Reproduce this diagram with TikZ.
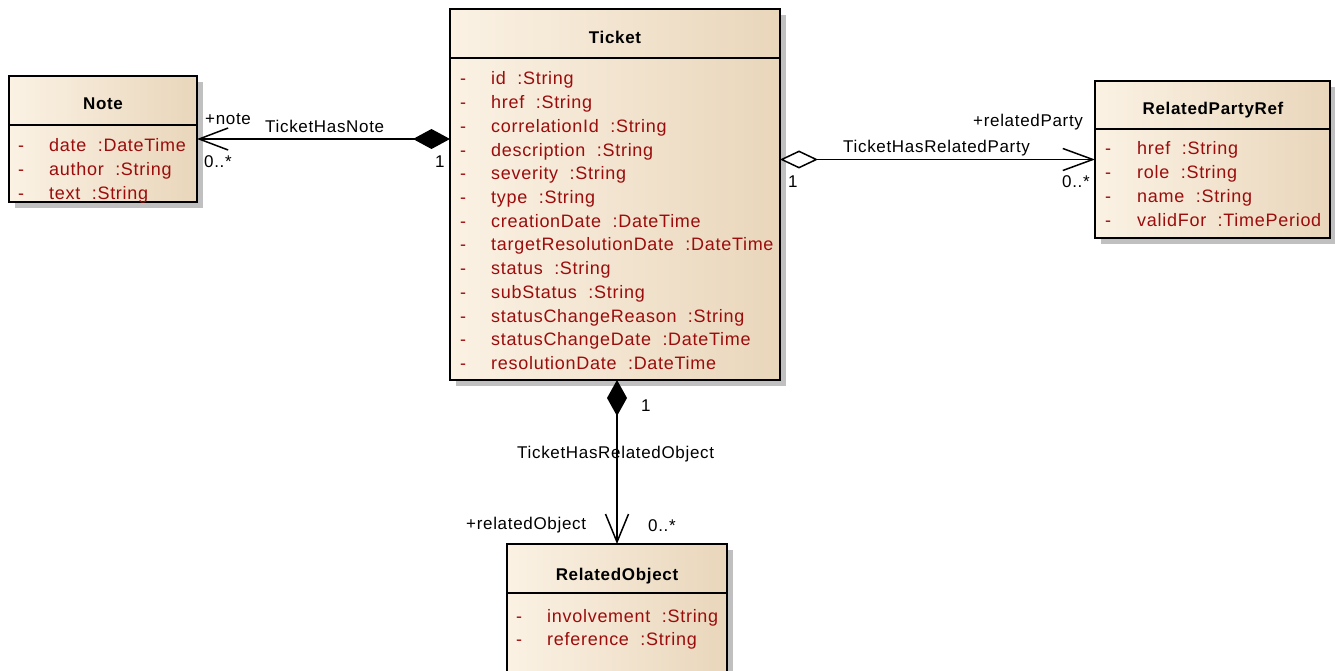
\documentclass[tikz,border=0pt]{standalone}
\usepackage{fontspec}
\setmainfont{Liberation Sans}
\newfontfamily\umlfont{Liberation Sans}[LetterSpace=4]
\usetikzlibrary{arrows.meta}
\definecolor{attrc}{RGB}{155,12,12}
\definecolor{fillL}{RGB}{251,242,228}
\definecolor{fillR}{RGB}{233,214,187}
\definecolor{shadowc}{RGB}{192,192,192}
\tikzset{
  classbox/.style={rectangle, draw=black, line width=1.8pt, left color=fillL, right color=fillR, inner sep=0pt, outer sep=0pt, anchor=north west},
  divider/.style={draw=black, line width=1.8pt},
  umltitle/.style={font=\umlfont\bfseries\fontsize{17}{20}\selectfont, anchor=base, inner sep=0pt},
  umlattr/.style={font=\umlfont\fontsize{18}{20}\selectfont, text=attrc, anchor=base west, inner sep=0pt},
  umllbl/.style={font=\umlfont\fontsize{17}{20}\selectfont, anchor=base west, inner sep=0pt},
  assoc/.style={draw=black, line width=1.5pt},
}
\begin{document}
\begin{tikzpicture}[x=1pt,y=-1pt]
\useasboundingbox (0,0) rectangle (1335,671);
\clip (0,0) rectangle (1335,671);

% shadows
\fill[shadowc] (15,82) rectangle (203,208);
\fill[shadowc] (456,15) rectangle (786,386);
\fill[shadowc] (1101,87) rectangle (1336,244);
\fill[shadowc] (513,550) rectangle (733,700);

% boxes
\node[classbox, minimum width=188pt, minimum height=126pt] (note) at (9,76) {};
\node[classbox, minimum width=330pt, minimum height=371pt] (ticket) at (450,9) {};
\node[classbox, minimum width=235pt, minimum height=157pt] (rp) at (1095,81) {};
\node[classbox, minimum width=220pt, minimum height=146pt] (ro) at (507,544) {};

% dividers
\draw[divider] (note.west |- 0,125) -- (note.east |- 0,125);
\draw[divider] (ticket.west |- 0,58) -- (ticket.east |- 0,58);
\draw[divider] (rp.west |- 0,129) -- (rp.east |- 0,129);
\draw[divider] (ro.west |- 0,593) -- (ro.east |- 0,593);

% titles
\node[umltitle] (note-title) at (103,110) {Note};
\node[umltitle] (ticket-title) at (615,44) {Ticket};
\node[umltitle] (rp-title) at (1213,115) {RelatedPartyRef};
\node[umltitle] (ro-title) at (617,580) {RelatedObject};

% attributes
\foreach \t [count=\i from 0] in {date\ \ :DateTime, author\ \ :String, text\ \ :String} {
  \node[umlattr] (note-d\i) at (18,{152+23.7*\i}) {-};
  \node[umlattr] (note-a\i) at (49,{152+23.7*\i}) {\t};
}
\foreach \t [count=\i from 0] in {id\ \ :String, href\ \ :String, correlationId\ \ :String, description\ \ :String, severity\ \ :String, type\ \ :String, creationDate\ \ :DateTime, targetResolutionDate\ \ :DateTime, status\ \ :String, subStatus\ \ :String, statusChangeReason\ \ :String, statusChangeDate\ \ :DateTime, resolutionDate\ \ :DateTime} {
  \node[umlattr] (ticket-d\i) at (460,{85+23.7*\i}) {-};
  \node[umlattr] (ticket-a\i) at (491,{85+23.7*\i}) {\t};
}
\foreach \t [count=\i from 0] in {href\ \ :String, role\ \ :String, name\ \ :String, validFor\ \ :TimePeriod} {
  \node[umlattr] (rp-d\i) at (1105,{155+23.7*\i}) {-};
  \node[umlattr] (rp-a\i) at (1137,{155+23.7*\i}) {\t};
}
\foreach \t [count=\i from 0] in {involvement\ \ :String, reference\ \ :String} {
  \node[umlattr] (ro-d\i) at (516,{622+23.3*\i}) {-};
  \node[umlattr] (ro-a\i) at (547,{622+23.3*\i}) {\t};
}

% connectors
\draw[assoc, {Diamond[length=37pt,width=20pt]}-{Straight Barb[length=29pt,width=22pt]}] (note.east -| ticket.west) -- (note.east);
\draw[assoc, {Diamond[fill=white,length=38pt,width=18pt]}-{Straight Barb[length=30pt,width=22pt]}] (rp.west -| ticket.east) -- (rp.west);
\draw[assoc, {Diamond[length=36pt,width=20pt]}-{Straight Barb[length=28pt,width=23pt]}] (ro.north |- ticket.south) -- (ro.north);

% connector labels
\node[umllbl] (l-note-role) at (205,125) {+note};
\node[umllbl] (l-note-name) at (265,133) {TicketHasNote};
\node[umllbl] (l-note-mult) at (204,168) {0..*};
\node[umllbl] (l-note-one) at (435,168) {1};

\node[umllbl] (l-rp-role) at (973,127) {+relatedParty};
\node[umllbl] (l-rp-name) at (843,153) {TicketHasRelatedParty};
\node[umllbl] (l-rp-one) at (788,188) {1};
\node[umllbl] (l-rp-mult) at (1062,188) {0..*};

\node[umllbl] (l-ro-one) at (641,411) {1};
\node[umllbl] (l-ro-name) at (517,458) {TicketHasRelatedObject};
\node[umllbl] (l-ro-role) at (466,529) {+relatedObject};
\node[umllbl] (l-ro-mult) at (648,531) {0..*};
\end{tikzpicture}
\end{document}
